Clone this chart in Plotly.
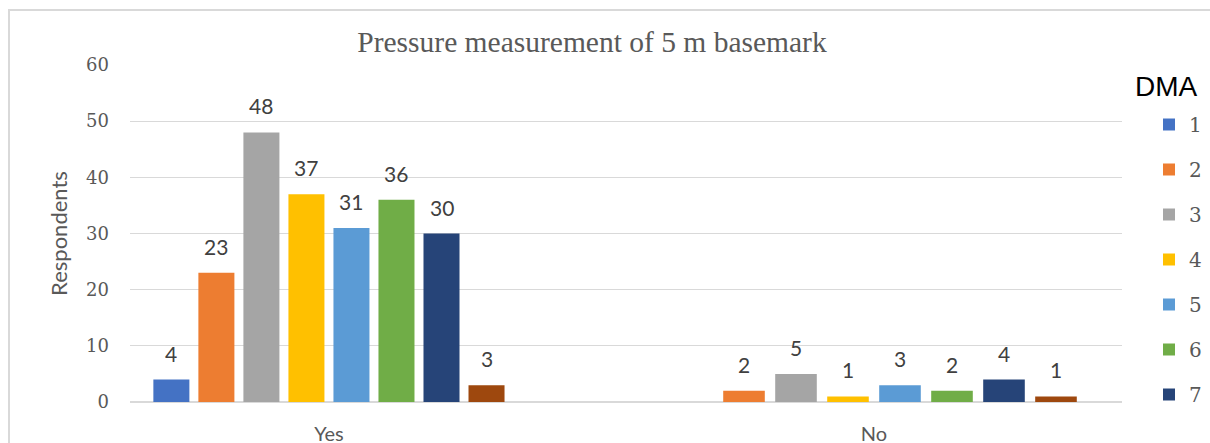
import plotly.graph_objects as go

# ---- data ----
categories = ["Yes", "No"]
dma_names = ["1", "2", "3", "4", "5", "6", "7", "8"]
yes_values = [4, 23, 48, 37, 31, 36, 30, 3]
no_values = [None, 2, 5, 1, 3, 2, 4, 1]
y_ticks = [0, 10, 20, 30, 40, 50, 60]

colors = ["#4472C4", "#ED7D31", "#A5A5A5", "#FFC000",
          "#5B9BD5", "#70AD47", "#264478", "#9E480E"]

# ---- layout constants ----
W, H = 1210, 443
ML, MR, MT, MB = 130, 88, 65, 41
group_pitch = [0.0826, 0.0954]   # bar pitch per category (category units)
bar_frac = 0.80
GRID = "#d9d9d9"
TXT = "#595959"
pw, ph = W - ML - MR, H - MT - MB


def px_x(px):
    return (px - ML) / pw


def px_y(py):
    return (H - MB - py) / ph


fig = go.Figure()
n = len(dma_names)
for i, name in enumerate(dma_names):
    vals = [yes_values[i], no_values[i]]
    offsets = [(i - (n - 1) / 2) * p - p * bar_frac / 2 for p in group_pitch]
    widths = [p * bar_frac for p in group_pitch]
    fig.add_trace(go.Bar(
        x=categories, y=vals, name=name,
        marker=dict(color=colors[i], line=dict(width=0)),
        offset=offsets, width=widths,
        legendgroup=name, showlegend=(i < 7),
    ))
    for j, v in enumerate(vals):
        if v is None:
            continue
        fig.add_annotation(
            x=j + (i - (n - 1) / 2) * group_pitch[j], y=v, xref="x", yref="y",
            text=str(v), showarrow=False, yanchor="bottom", yshift=12,
            font=dict(family="Lato", size=21, color="#404040"),
        )

# legend title as annotation
fig.add_annotation(
    x=px_x(1166), y=px_y(86), xref="paper", yref="paper", text="DMA",
    showarrow=False, xanchor="center", yanchor="middle",
    font=dict(family="Liberation Sans", size=28, color="#000000"),
)

# chart-area border
fig.add_shape(
    type="rect", xref="paper", yref="paper",
    x0=px_x(9), x1=px_x(1230), y0=px_y(470), y1=px_y(10),
    line=dict(color=GRID, width=2), fillcolor="rgba(0,0,0,0)", layer="below",
)

fig.update_layout(
    width=W, height=H,
    margin=dict(l=ML, r=MR, t=MT, b=MB, autoexpand=False),
    paper_bgcolor="white", plot_bgcolor="white",
    barmode="overlay",
    title=dict(
        text="Pressure measurement of 5 m basemark",
        x=592 / W, xref="container", xanchor="center",
        y=1 - 42 / H, yref="container", yanchor="middle",
        font=dict(family="Liberation Serif", size=29.5, color=TXT),
    ),
    xaxis=dict(
        type="category", range=[-0.365, 1.455], automargin=False,
        showgrid=False, showline=False, zeroline=False,
        ticks="", ticklabelstandoff=18,
        tickfont=dict(family="Lato", size=20, color=TXT),
    ),
    yaxis=dict(
        range=[0, 60], tickvals=y_ticks, automargin=False,
        showgrid=True, gridcolor=GRID, gridwidth=1,
        zeroline=True, zerolinecolor=GRID, zerolinewidth=1.5,
        showline=False, ticks="", ticklabelstandoff=20,
        tickfont=dict(family="DejaVu Serif", size=18, color=TXT),
        title=dict(text="Respondents", standoff=12,
                   font=dict(family="Lato", size=22, color=TXT)),
    ),
    legend=dict(
        x=px_x(1149), xanchor="left",
        y=px_y(105), yanchor="top",
        tracegroupgap=16,
        font=dict(family="DejaVu Serif", size=20, color=TXT),
        bgcolor="rgba(0,0,0,0)",
    ),
    showlegend=True,
)

fig.write_html("out.html")
